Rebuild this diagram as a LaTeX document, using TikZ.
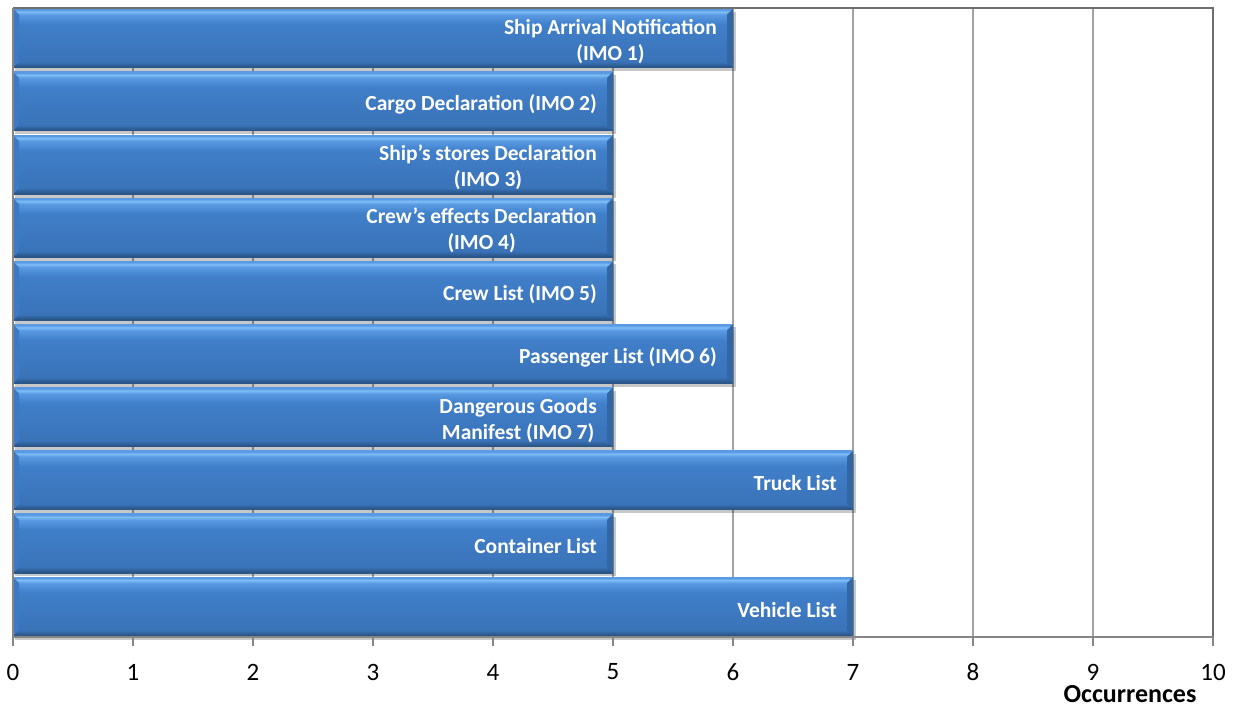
\documentclass[tikz,border=0pt]{standalone}
\usepackage{fontspec}
\setmainfont{Carlito}
\definecolor{gridgray}{HTML}{A3A3A3}
\definecolor{axisgray}{HTML}{858585}
\definecolor{bordergray}{HTML}{6E6E6E}
\definecolor{btop}{HTML}{80BEF7}
\definecolor{bhi}{HTML}{5A9AE3}
\definecolor{bmid}{HTML}{407FC9}
\definecolor{blow}{HTML}{3A73B8}
\definecolor{bbot}{HTML}{2A5688}
\definecolor{bleft}{HTML}{3C7AC3}
\definecolor{bright}{HTML}{3266A4}
\pgfdeclareverticalshading{barshade}{100bp}{color(0bp)=(bbot); color(25bp)=(bbot); color(26bp)=(bbot); color(30bp)=(blow); color(62bp)=(bmid); color(70bp)=(bhi); color(72.5bp)=(btop); color(74bp)=(bhi); color(75bp)=(bhi); color(100bp)=(bhi)}
\tikzset{
  grid line/.style={gridgray, line width=1.3pt},
  axis line/.style={axisgray, line width=1.5pt},
  bar shadow/.style={fill=black, fill opacity=0.22},
  bar body/.style={shading=barshade},
  barlab/.style={font=\fontsize{21.5}{26}\selectfont\bfseries, text=white, align=center, inner sep=0pt, anchor=east},
  ticklab/.style={font=\fontsize{25}{25}\selectfont, text=black, inner sep=0pt},
  axistitle/.style={font=\fontsize{26}{26}\selectfont\bfseries, text=black, inner sep=0pt}
}
\begin{document}
\begin{tikzpicture}[x=1pt,y=-1pt]
\useasboundingbox (0,0) rectangle (1239,707);
% grid
\foreach \k in {1,...,9} {
  \draw[grid line] (13+120*\k,8) -- (13+120*\k,646);
}
% bars
\foreach \v [count=\i from 0] in {6,5,5,5,5,6,5,7,5,7} {
  \pgfmathsetmacro\t{8.7+63.15*\i}
  \pgfmathsetmacro\b{\t+59}
  \pgfmathsetmacro\xe{13+120*\v}
  \pgfmathsetmacro\c{\t+32.5}
  \fill[bar shadow] (15,\t+3) rectangle (\xe+3,\b+3.5);
  \shade[bar body] (13,\t) rectangle (\xe,\b);
  \fill[bleft] (13,\t) -- (19,\t+6) -- (19,\b-6) -- (13,\b) -- cycle;
  \fill[bright] (\xe,\t) -- (\xe-6,\t+6) -- (\xe-6,\b-6) -- (\xe,\b) -- cycle;
  \draw[bbot, line width=0.8pt] (13,\b) -- (\xe,\b);
  \coordinate (bar\i) at (\xe-16,\c);
}
% axes and border
\draw[bordergray, line width=1.5pt] (13,8) -- (1213,8) -- (1213,646);
\draw[axis line] (13,8) -- (13,646);
\draw[axis line] (13,637) -- (1213,637);
\foreach \k in {0,...,10} {
  \draw[axis line] (13+120*\k,637) -- (13+120*\k,646);
  \node[ticklab] (tick\k) at (13+120*\k,672) {\k};
}
\node[axistitle] (title) at (1130,694.5) {Occurrences};
% labels
\node[barlab] (lab0) at (bar0) {Ship Arrival Notification\\(IMO 1)};
\node[barlab] (lab1) at (bar1) {Cargo Declaration (IMO 2)};
\node[barlab] (lab2) at (bar2) {Ship’s stores Declaration\\(IMO 3)};
\node[barlab] (lab3) at (bar3) {Crew’s effects Declaration\\(IMO 4)};
\node[barlab] (lab4) at (bar4) {Crew List (IMO 5)};
\node[barlab] (lab5) at (bar5) {Passenger List (IMO 6)};
\node[barlab] (lab6) at (bar6) {Dangerous Goods\\Manifest (IMO 7)};
\node[barlab] (lab7) at (bar7) {Truck List};
\node[barlab] (lab8) at (bar8) {Container List};
\node[barlab] (lab9) at (bar9) {Vehicle List};
\end{tikzpicture}
\end{document}
